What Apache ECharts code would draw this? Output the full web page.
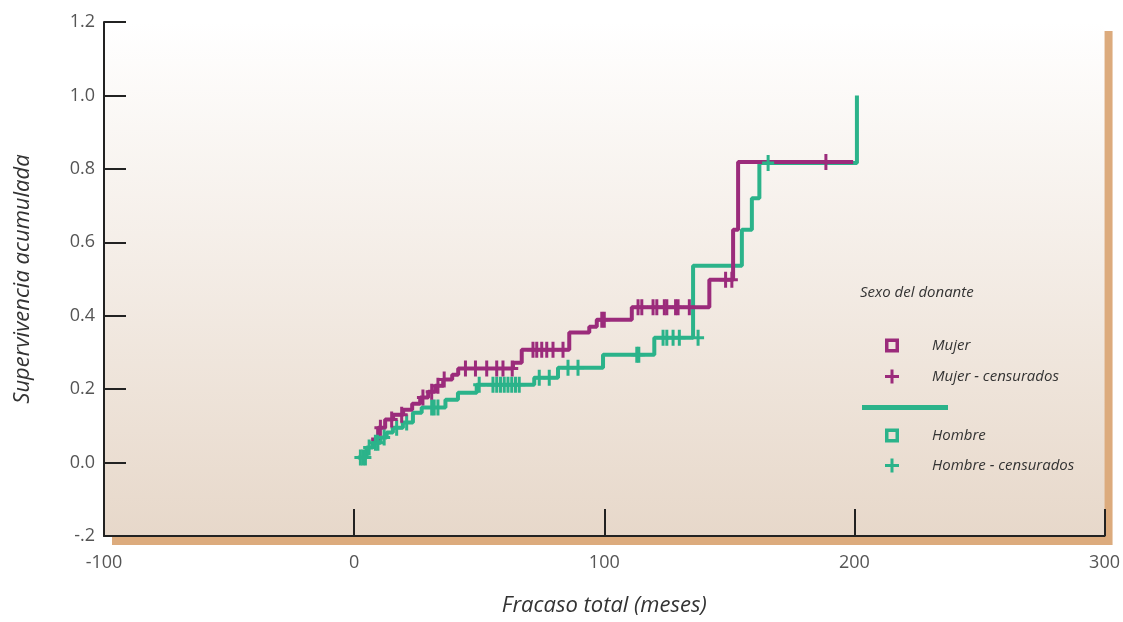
<!DOCTYPE html>
<html>
<head>
<meta charset="utf-8">
<script src="https://cdn.jsdelivr.net/npm/echarts@6/dist/echarts.min.js"></script>
<style>
  html, body { margin: 0; padding: 0; background: #ffffff; }
  #chart { width: 1123px; height: 622px; }
</style>
</head>
<body>
<div id="chart"></div>
<script>
// Cumulative survival by donor sex: step curves [months, cumulative value]
const mujerSteps = [
  [6.8, 0.063], [9.6, 0.095], [12.4, 0.117], [15.6, 0.13], [19.6, 0.144],
  [23.2, 0.16], [26.4, 0.177], [29.6, 0.193], [32.4, 0.209], [35.6, 0.226],
  [39.2, 0.239], [41.6, 0.256], [63.5, 0.272], [67, 0.307], [86, 0.354],
  [94, 0.37], [97, 0.389], [111, 0.423], [142, 0.498], [151.5, 0.634],
  [153.5, 0.819], [199.5, 0.819]
];
const hombreSteps = [
  [1.5, 0.014], [5, 0.041], [7.5, 0.054], [10.5, 0.068], [13, 0.082],
  [15.5, 0.095], [19.5, 0.109], [23.5, 0.136], [27, 0.15], [36.5, 0.171],
  [41.5, 0.19], [49, 0.212], [72, 0.231], [81.5, 0.258], [99.5, 0.294],
  [120, 0.34], [135.5, 0.536], [155, 0.634], [159, 0.72], [162, 0.816],
  [201, 1.0]
];
// Censored cases [months, cumulative value]
const mujerCensored = [
  [10.5, 0.095], [15, 0.117], [19, 0.13], [27.5, 0.177], [31, 0.193],
  [33.5, 0.209], [36, 0.226], [44.5, 0.256], [48.5, 0.256], [53, 0.256],
  [57, 0.256], [59.5, 0.256], [63.2, 0.256], [71.5, 0.307], [73, 0.307],
  [75, 0.307], [77, 0.307], [79.5, 0.307], [83.5, 0.307], [99, 0.389],
  [100, 0.389], [113.5, 0.423], [115, 0.423], [119.5, 0.423], [121, 0.423],
  [124, 0.423], [125, 0.423], [128.5, 0.423], [129.5, 0.423], [134, 0.423],
  [148.5, 0.498], [151, 0.498], [188.6, 0.819]
];
const hombreCensored = [
  [2.5, 0.014], [3.5, 0.014], [4.5, 0.014], [6, 0.041], [8.5, 0.054],
  [9.5, 0.054], [12, 0.068], [17, 0.095], [21, 0.109], [31, 0.15],
  [32, 0.15], [33.5, 0.15], [50, 0.212], [55.5, 0.212], [57, 0.212],
  [58.5, 0.212], [60, 0.212], [61.5, 0.212], [63, 0.212], [64.5, 0.212],
  [66, 0.212], [74, 0.231], [78, 0.231], [85.5, 0.258], [89.5, 0.258],
  [113, 0.294], [113.8, 0.294], [123.5, 0.34], [125, 0.34], [127.5, 0.34],
  [130, 0.34], [137.5, 0.34], [165.5, 0.816]
];
// Axis ranges and tick labels
const xRange = [-100, 300];
const xStep = 100;
const yRange = [-0.2, 1.2];
const yStep = 0.2;
const yTickLabels = { '-0.2': '-.2', '0': '0.0', '0.2': '0.2', '0.4': '0.4', '0.6': '0.6', '0.8': '0.8', '1': '1.0', '1.2': '1.2' };

const COLOR_M = '#9b2b7b';
const COLOR_H = '#2bb38a';
const FONT = "'Open Sans', 'Noto Sans', sans-serif";

const PLUS = 'path://M4.5,0H7.5V16H4.5Z M0,6.5H12V9.5H0Z';
const PLUS_LEG = 'path://M5.5,0H8.5V14H5.5Z M0,5.5H14V8.5H0Z';
const HOLLOW_SQ = 'path://M0,0H14V14H0Z M3.5,3.5V10.5H10.5V3.5Z';

const chart = echarts.init(document.getElementById('chart'), null, { renderer: 'canvas' });

const legendText = {
  fontFamily: FONT, fontStyle: 'italic', fontSize: 15, color: '#333',
  padding: [0, 0, 0, 28]
};

chart.setOption({
  animation: false,
  backgroundColor: '#ffffff',
  grid: {
    show: true, left: 104, right: 18, top: 22, bottom: 85,
    borderWidth: 0,
    backgroundColor: new echarts.graphic.LinearGradient(0, 0, 0, 1, [
      { offset: 0, color: '#ffffff' },
      { offset: 1, color: '#e7d8ca' }
    ]),
    shadowColor: '#dcab7d', shadowBlur: 0, shadowOffsetX: 8, shadowOffsetY: 9
  },
  xAxis: {
    type: 'value', min: xRange[0], max: xRange[1], interval: xStep,
    name: 'Fracaso total (meses)', nameLocation: 'middle', nameGap: 59,
    nameTextStyle: { fontFamily: FONT, fontStyle: 'italic', fontSize: 22, color: '#333' },
    axisLine: { show: true, onZero: false, lineStyle: { color: '#222', width: 2 } },
    axisTick: { show: true, inside: true, length: 27, lineStyle: { color: '#222', width: 2 } },
    axisLabel: { margin: 18, fontFamily: FONT, fontSize: 18, color: '#555' },
    splitLine: { show: false }
  },
  yAxis: {
    type: 'value', min: yRange[0], max: yRange[1], interval: yStep,
    name: 'Supervivencia acumulada', nameLocation: 'middle', nameGap: 70,
    nameTextStyle: { fontFamily: FONT, fontStyle: 'italic', fontSize: 22, color: '#333' },
    axisLine: { show: true, onZero: false, lineStyle: { color: '#222', width: 2 } },
    axisTick: { show: true, inside: true, length: 22, lineStyle: { color: '#222', width: 2 } },
    axisLabel: {
      margin: 9, fontFamily: FONT, fontSize: 18, color: '#555',
      formatter: v => yTickLabels[String(Math.round(v * 10) / 10)] ?? v.toFixed(1)
    },
    splitLine: { show: false }
  },
  legend: [
    {
      orient: 'vertical', left: 880, top: 333, itemWidth: 14, itemHeight: 14, itemGap: 16,
      selectedMode: false, textStyle: legendText,
      data: [
        { name: 'Mujer', icon: HOLLOW_SQ },
        { name: 'Mujer - censurados', icon: PLUS_LEG }
      ]
    },
    {
      orient: 'vertical', left: 880, top: 423, itemWidth: 14, itemHeight: 14, itemGap: 15,
      selectedMode: false, textStyle: legendText,
      data: [
        { name: 'Hombre', icon: HOLLOW_SQ },
        { name: 'Hombre - censurados', icon: PLUS_LEG }
      ]
    }
  ],
  graphic: [
    {
      type: 'text', left: 860, top: 285,
      style: { text: 'Sexo del donante', font: "italic 15px 'Open Sans', sans-serif", fill: '#333' }
    },
    {
      type: 'rect', left: 862, top: 405,
      shape: { width: 86, height: 5 },
      style: { fill: COLOR_H }
    }
  ],
  series: [
    {
      name: 'Hombre', type: 'line', step: 'end', data: hombreSteps,
      showSymbol: false, symbol: 'none', color: COLOR_H,
      lineStyle: { color: COLOR_H, width: 4 }, z: 2
    },
    {
      name: 'Mujer', type: 'line', step: 'end', data: mujerSteps,
      showSymbol: false, symbol: 'none', color: COLOR_M,
      lineStyle: { color: COLOR_M, width: 4 }, z: 3
    },
    {
      name: 'Hombre - censurados', type: 'scatter', data: hombreCensored,
      symbol: PLUS, symbolSize: [12, 16], color: COLOR_H,
      itemStyle: { color: COLOR_H, opacity: 1 }, z: 4
    },
    {
      name: 'Mujer - censurados', type: 'scatter', data: mujerCensored,
      symbol: PLUS, symbolSize: [12, 16], color: COLOR_M,
      itemStyle: { color: COLOR_M, opacity: 1 }, z: 5
    }
  ]
});
</script>
</body>
</html>
